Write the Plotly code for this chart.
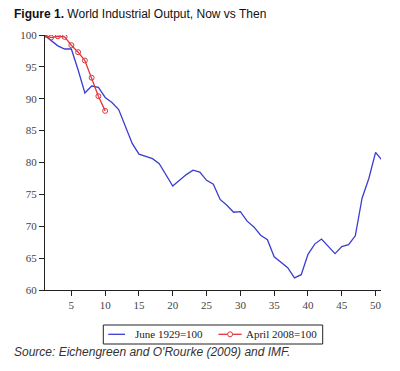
import plotly.graph_objects as go

months = list(range(1, 52))
june1929 = [100, 99.2, 98.3, 97.8, 97.8, 94.5, 90.9, 92.0, 91.8, 90.2,
            89.4, 88.3, 85.5, 83.0, 81.3, 81.0, 80.6, 79.8, 78.0, 76.3,
            77.2, 78.1, 78.8, 78.5, 77.2, 76.6, 74.2, 73.3, 72.2, 72.3,
            70.8, 69.9, 68.6, 67.9, 65.2, 64.3, 63.5, 61.9, 62.4, 65.6,
            67.2, 68.0, 66.8, 65.7, 66.8, 67.1, 68.5, 74.4, 77.5, 81.6,
            80.3]
months_2008 = list(range(1, 11))
april2008 = [100, 99.6, 99.8, 99.7, 98.4, 97.3, 96.0, 93.3, 90.4, 88.1]

x_ticks = [5, 10, 15, 20, 25, 30, 35, 40, 45, 50]
y_ticks = [60, 65, 70, 75, 80, 85, 90, 95, 100]

series_names = ["June 1929=100", "April 2008=100"]
title_text = "<b>Figure 1.</b> World Industrial Output, Now vs Then"
source_text = "<i>Source: Eichengreen and O'Rourke (2009) and IMF.</i>"

BLUE = "#3c3cd2"
RED = "#e0353a"

fig = go.Figure()
fig.add_trace(go.Scatter(
    x=months, y=june1929, mode="lines", name=series_names[0],
    line=dict(color=BLUE, width=1.3),
))
fig.add_trace(go.Scatter(
    x=months_2008, y=april2008, mode="lines+markers", name=series_names[1],
    line=dict(color=RED, width=1.3),
    marker=dict(symbol="circle-open", size=5, color=RED, line=dict(width=1)),
))

tick_font = dict(family="Liberation Serif, Times New Roman, serif", size=11, color="#444")
legend_font = dict(family="Liberation Serif, Times New Roman, serif", size=11, color="#222")

# page has an 8px body margin, so the figure is 8px smaller and margins compensate
L, R, T, B = 33, 19, 27, 81
PW, PH = 340, 255


def px(fx):
    return (fx - L) / PW


def py(fy):
    return (T + PH - fy) / PH


LEG_Y = 326.3
shapes = [
    dict(type="rect", xref="paper", yref="paper", x0=px(92), x1=px(314),
         y0=py(336), y1=py(317), line=dict(color="#222", width=1), fillcolor="white"),
    dict(type="line", xref="paper", yref="paper", x0=px(97), x1=px(114),
         y0=py(LEG_Y), y1=py(LEG_Y), line=dict(color=BLUE, width=1.3)),
    dict(type="line", xref="paper", yref="paper", x0=px(208.5), x1=px(232),
         y0=py(LEG_Y), y1=py(LEG_Y), line=dict(color=RED, width=1.3)),
    dict(type="circle", xref="paper", yref="paper", x0=px(217.8), x1=px(222.8),
         y0=py(LEG_Y + 2.5), y1=py(LEG_Y - 2.5), line=dict(color=RED, width=1),
         fillcolor="white"),
]

annotations = [
    dict(text=title_text, xref="paper", yref="paper", x=-L / PW, y=1 + 21 / PH,
         xanchor="left", yanchor="middle", showarrow=False,
         font=dict(family="Liberation Sans, Arial, sans-serif", size=12, color="#111")),
    dict(text=source_text, xref="paper", yref="paper", x=-L / PW, y=-62 / PH,
         xanchor="left", yanchor="middle", showarrow=False,
         font=dict(family="Liberation Sans, Arial, sans-serif", size=12, color="#333")),
    dict(text=series_names[0], xref="paper", yref="paper", x=px(122), y=py(LEG_Y),
         xanchor="left", yanchor="middle", showarrow=False, font=legend_font),
    dict(text=series_names[1], xref="paper", yref="paper", x=px(234.5), y=py(LEG_Y),
         xanchor="left", yanchor="middle", showarrow=False, font=legend_font),
]

fig.update_layout(
    width=392, height=363,
    margin=dict(l=L, r=R, t=T, b=B),
    paper_bgcolor="white", plot_bgcolor="white",
    showlegend=False,
    xaxis=dict(
        range=[1.1, 50.8], tickvals=x_ticks, ticktext=[str(v) for v in x_ticks],
        showgrid=False, zeroline=False, showline=True, linecolor="#222", linewidth=1,
        ticks="outside", ticklen=5, tickcolor="#222", tickfont=tick_font,
    ),
    yaxis=dict(
        range=[60, 100], tickvals=y_ticks, ticktext=[str(v) for v in y_ticks],
        showgrid=False, zeroline=False, showline=True, linecolor="#222", linewidth=1,
        ticks="outside", ticklen=5, tickcolor="#222", tickfont=tick_font,
    ),
    shapes=shapes,
    annotations=annotations,
)

fig.write_html("out.html")
